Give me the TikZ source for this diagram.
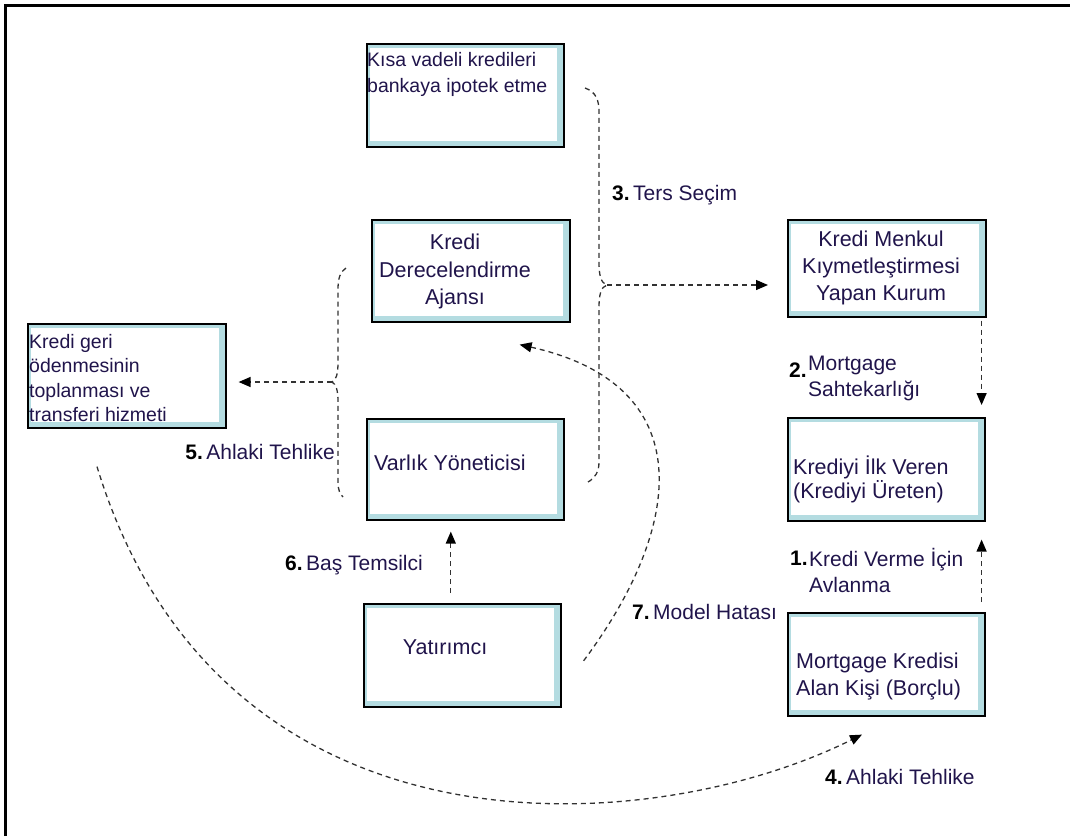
\documentclass[tikz,border=0pt]{standalone}
\usepackage{fontspec}
\setmainfont{Liberation Sans}
\usetikzlibrary{arrows.meta,calc}
\definecolor{txtblue}{RGB}{32,20,75}
\definecolor{bevel}{RGB}{180,220,225}
\definecolor{dashgray}{RGB}{50,50,50}
\begin{document}
\begin{tikzpicture}[x=1pt,y=-1pt,
  box/.style={draw=black, line width=1.6pt, fill=bevel, anchor=north west, inner sep=0pt,
    path picture={\fill[white] ([shift={(3pt,-4pt)}]path picture bounding box.north west)
      rectangle ([shift={(-7pt,6pt)}]path picture bounding box.south east);}},
  txt/.style={text=txtblue, font=\fontsize{21.5}{27}\selectfont, inner sep=0pt},
  small/.style={text=txtblue, font=\fontsize{19.5}{25}\selectfont, inner sep=0pt, align=left},
  lbl/.style={font=\fontsize{21}{26}\selectfont, inner sep=0pt},
  conn/.style={draw=dashgray, line width=1.3pt, dash pattern=on 5pt off 4pt},
  arr/.style={conn, -{Triangle[length=12pt,width=10pt,color=black]}}
]
\useasboundingbox (0,0) rectangle (1070,836);
% frame
\draw[line width=3pt] (5,836) -- (5,5) -- (1070,5);

% boxes
\node[box, minimum width=197pt, minimum height=103pt] (kisa) at (366,43) {};
\node[box, minimum width=198pt, minimum height=102pt] (ajans) at (371,219) {};
\node[box, minimum width=198pt, minimum height=104pt] (hizmet) at (27,323) {};
\node[box, minimum width=198pt, minimum height=97pt] (menkul) at (787,219) {};
\node[box, minimum width=197pt, minimum height=103pt] (ilk) at (787,417) {};
\node[box, minimum width=197pt, minimum height=103pt] (borclu) at (787,612) {};
\node[box, minimum width=197pt, minimum height=101pt] (varlik) at (366,418) {};
\node[box, minimum width=197pt, minimum height=103pt] (yatirim) at (363,603) {};

% box texts
\node[small, anchor=west] (kisaT) at (367,74) {Kısa vadeli kredileri\\[1pt]bankaya ipotek etme};
\node[txt, align=center] (ajansT) at (455,271) {Kredi\\[1pt]Derecelendirme\\Ajansı};
\node[small, anchor=west, font=\fontsize{19.5}{24.5}\selectfont] (hizmetT) at (29,378) {Kredi geri\\ödenmesinin\\toplanması ve\\transferi hizmeti};
\node[txt, align=center] (menkulT) at (881,268) {Kredi Menkul\\Kıymetleştirmesi\\Yapan Kurum};
\node[txt, align=left, anchor=west, font=\fontsize{21.5}{24}\selectfont] (ilkT) at (793,479) {Krediyi İlk Veren\\(Krediyi Üreten)};
\node[txt, align=left, anchor=west] (borcluT) at (796,676) {Mortgage Kredisi\\Alan Kişi (Borçlu)};
\node[txt, anchor=west] (varlikT) at (374,463) {Varlık Yöneticisi};
\node[txt] (yatirimT) at (445,647) {Yatırımcı};

% labels
\node[lbl, anchor=west] (l3) at (612,195) {\textbf{3.}\,\textcolor{txtblue}{Ters Seçim}};
\node[lbl, anchor=west] (l2n) at (789,370) {\textbf{2.}};
\node[lbl, anchor=west, text=txtblue, align=left] (l2) at (808,378) {Mortgage\\Sahtekarlığı};
\node[lbl, anchor=west] (l1n) at (790,558) {\textbf{1.}};
\node[lbl, anchor=west, text=txtblue, align=left] (l1) at (809,570) {Kredi Verme İçin\\Avlanma};
\node[lbl, anchor=west] (l4) at (825,777) {\textbf{4.}\,\textcolor{txtblue}{Ahlaki Tehlike}};
\node[lbl, anchor=east] (l5) at (335,452) {\textbf{5.}\,\textcolor{txtblue}{Ahlaki Tehlike}};
\node[lbl, anchor=east] (l6) at (423,565) {\textbf{6.}\,\textcolor{txtblue}{Baş Temsilci}};
\node[lbl, anchor=west] (l7) at (632,612) {\textbf{7.}\,\textcolor{txtblue}{Model Hatası}};

% 3. brace and arrow
\coordinate (b3top) at (585,88);
\coordinate (tip3) at (607,285);
\coordinate (b3bot) at (588,482);
\draw[conn] (b3top) .. controls (596,92) and (599,100) .. (599,112) -- (599,262)
  .. controls (599,276) and (601,283) .. (tip3)
  .. controls (601,287) and (599,294) .. (599,308) -- (599,462)
  .. controls (599,472) and (595,478) .. (b3bot);
\draw[arr] (tip3) -- ($(tip3 -| menkul.west)+(-19,0)$);

% 5. brace and arrow
\coordinate (b5top) at (346,268);
\coordinate (tip5) at (332,382);
\coordinate (b5bot) at (343,497);
\draw[conn] (b5top) .. controls (340,272) and (338,278) .. (338,290) -- (338,362)
  .. controls (338,375) and (336,380) .. (tip5)
  .. controls (336,384) and (338,390) .. (338,402) -- (338,482)
  .. controls (338,490) and (340,494) .. (b5bot);
\draw[arr] (tip5) -- ($(tip5 -| hizmet.east)+(12,0)$);

% 2., 1., 6. arrows
\draw[arr] ($(menkul.south east)+(-5,3)$) -- ($(ilk.north east)+(-4,-12)$);
\draw[arr] ($(borclu.north east)+(-4,-10)$) -- ($(ilk.south east)+(-4,18)$);
\draw[arr] ($(yatirim.north)+(-11.5,-10)$) -- ($(varlik.south)+(-14.5,11)$);

% 7. model hatasi curve
\coordinate (s7) at ($(yatirim.east)+(22,5.5)$);
\coordinate (e7) at ($(ajans.south east)+(-51,22)$);
\draw[arr] (s7) .. controls (685,525) and (700,385) .. (e7);

% 4. ahlaki tehlike curve
\coordinate (s4) at ($(hizmet.south west)+(70,38)$);
\coordinate (e4) at ($(borclu.south west)+(75,18)$);
\draw[arr] (s4) .. controls (220,870) and (650,840) .. (e4);
\end{tikzpicture}
\end{document}
